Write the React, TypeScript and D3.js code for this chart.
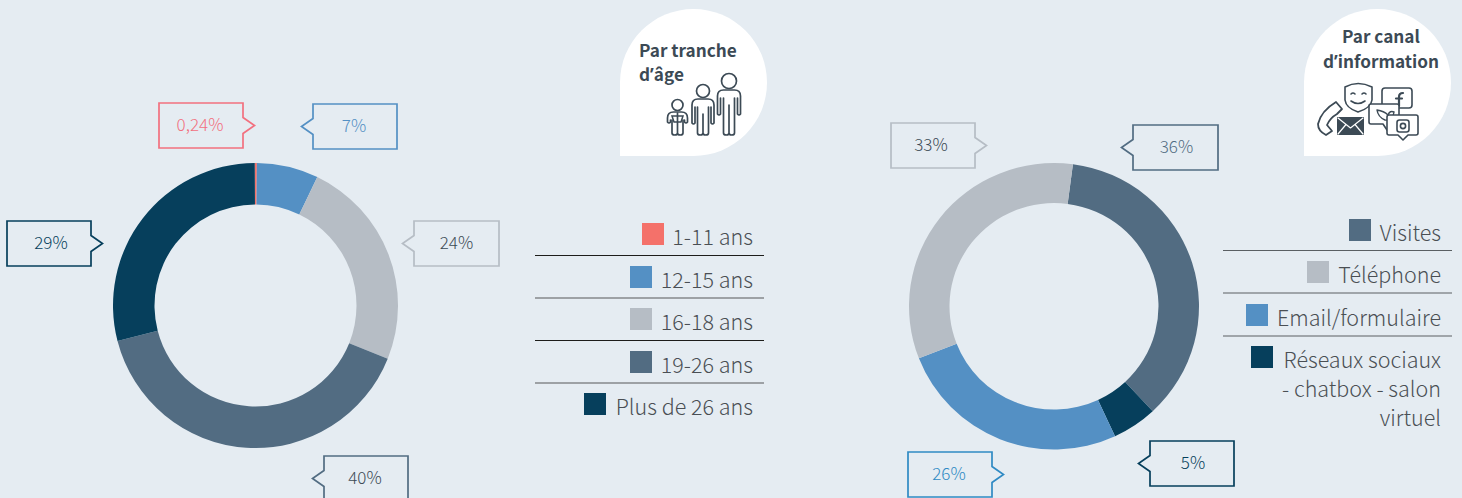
import React from "react";
import * as d3 from "d3";

const ageLabels = ["1-11 ans", "12-15 ans", "16-18 ans", "19-26 ans", "Plus de 26 ans"];
const ageValues = [0.24, 7, 24, 40, 29];
const ageColors = ["#f4716a", "#5490c4", "#b6bdc5", "#526c82", "#063f5c"];
const ageLineColors = ["#1d1d1b", "#85888b", "#1d1d1b", "#85888b"];

const channelLabels = ["Visites", "Téléphone", "Email/formulaire", "Réseaux sociaux"];
const channelValues = [36, 5, 26, 33];
const channelSliceColors = ["#526c82", "#063f5c", "#5490c4", "#b6bdc5"];

type Callout = { x: number; y: number; w: number; h: number; side: "l" | "r"; text: string; color: string; tc: string; dx?: number };
const ageCallouts: Callout[] = [
  { x: 159, y: 103, w: 84, h: 45, side: "r", text: "0,24%", color: "#f2707f", tc: "#f2707f" },
  { x: 313, y: 104, w: 84, h: 45, side: "l", text: "7%", color: "#5490c4", tc: "#5490c4" },
  { x: 414, y: 221, w: 85, h: 45, side: "l", text: "24%", color: "#b6bdc5", tc: "#3c4a55", dx: 1 },
  { x: 7, y: 221, w: 84, h: 45, side: "r", text: "29%", color: "#063f5c", tc: "#063f5c", dx: 3 },
  { x: 324, y: 456, w: 84, h: 45, side: "l", text: "40%", color: "#526c82", tc: "#3c4a55" },
];
const channelCallouts: Callout[] = [
  { x: 891, y: 123, w: 84, h: 45, side: "r", text: "33%", color: "#b6bdc5", tc: "#3c4a55", dx: -1 },
  { x: 1133, y: 125, w: 85, h: 45, side: "l", text: "36%", color: "#526c82", tc: "#526c82", dx: 2 },
  { x: 908, y: 452, w: 84, h: 45, side: "r", text: "26%", color: "#2f8ac4", tc: "#2f8ac4" },
  { x: 1150, y: 441, w: 84, h: 45, side: "l", text: "5%", color: "#063f5c", tc: "#063f5c", dx: 2 },
];

const FONT = "'Noto Sans CJK SC', 'Noto Sans', sans-serif";
const DARK = "#3c4a55";

function Donut({ cx, cy, ro, ri, values, colors, start, sy = 1 }: { cx: number; cy: number; ro: number; ri: number; values: number[]; colors: string[]; start: number; sy?: number }) {
  const pie = d3.pie<number>().sort(null).value((d) => d).startAngle(start).endAngle(start + 2 * Math.PI);
  const arc = d3.arc<d3.PieArcDatum<number>>().innerRadius(ri).outerRadius(ro);
  return (
    <g transform={`translate(${cx},${cy}) scale(1,${sy})`}>
      {pie(values).map((d, i) => (
        <path key={i} d={arc(d) || ""} fill={colors[i]} />
      ))}
    </g>
  );
}

function CalloutBox({ c }: { c: Callout }) {
  const { x, y, w, h } = c;
  const my = y + h / 2;
  const p = 11.5;
  const n = 8;
  const d =
    c.side === "r"
      ? `M${x},${y}H${x + w}V${my - n}L${x + w + p},${my}L${x + w},${my + n}V${y + h}H${x}Z`
      : `M${x},${y}H${x + w}V${y + h}H${x}V${my + n}L${x - p},${my}L${x},${my - n}Z`;
  return (
    <g>
      <path d={d} fill="none" stroke={c.color} strokeWidth={1.7} />
      <text x={x + w / 2 - 1 + (c.dx ?? 0)} y={my + 5.5} textAnchor="middle" fontSize={17} fontWeight={300} fill={c.tc} fontFamily={FONT}>
        {c.text}
      </text>
    </g>
  );
}

function Badge({ x, y, size }: { x: number; y: number; size: number }) {
  const r = size / 2;
  return (
    <path
      d={`M${x},${y + size}V${y + r}A${r},${r} 0 0 1 ${x + size},${y + r}A${r},${r} 0 0 1 ${x + r},${y + size}Z`}
      fill="#ffffff"
    />
  );
}

function Person({ x, headY, hr, S, A, W, L }: { x: number; headY: number; hr: number; S: number; A: number; W: number; L: number }) {
  const B = 135;
  return (
    <g transform={`translate(${x},0)`} fill="none" stroke={DARK} strokeWidth={1.7} strokeLinecap="round" strokeLinejoin="round">
      <circle cx={0} cy={headY} r={hr} />
      <path
        d={`M0,${B - 2}V${A - 10}M0,${B - 2}Q0,${B} ${-L / 2},${B}Q${-L},${B} ${-L},${B - 2}V${S + 8}M0,${B - 2}Q0,${B} ${L / 2},${B}Q${L},${B} ${L},${B - 2}V${S + 8}`}
      />
      <path
        d={`M${-W + 3},${S + 8}V${A - 1}Q${-W + 1.5},${A + 1} ${-W},${A - 1}V${S + 6}Q${-W},${S} ${-W + 6},${S}H${W - 6}Q${W},${S} ${W},${S + 6}V${A - 1}Q${W - 1.5},${A + 1} ${W - 3},${A - 1}V${S + 8}`}
      />
    </g>
  );
}

function AgeIcon() {
  return (
    <g>
      <Person x={677.5} headY={105} hr={5.5} S={112} A={123} W={10} L={5.5} />
      <path d="M672,116H683L681,122H674Z" fill="none" stroke={DARK} strokeWidth={1.5} />
      <Person x={703} headY={91} hr={6.5} S={99} A={124} W={11} L={5.5} />
      <Person x={729} headY={81} hr={7.5} S={90} A={115} W={11.5} L={5.5} />
    </g>
  );
}

function ChannelIcon() {
  return (
    <g fill="none" stroke={DARK} strokeWidth={1.6} strokeLinecap="round" strokeLinejoin="round">
      <path d="M1345,87Q1358,80 1372,87V100Q1371,108 1358,112Q1346,108 1345,100Z" />
      <path d="M1351,94Q1353,92 1355,94M1362,94Q1364,92 1366,94M1351,101Q1358,106 1365,101" />
      <path d="M1336,102L1342,109L1337,114Q1330,118 1327,125L1332,131L1326,135Q1318,131 1318,124Q1321,111 1336,102Z" strokeWidth={1.8} />
      <path d="M1337,117H1364V135H1337Z" fill={DARK} stroke="none" />
      <path d="M1338,118L1350.5,128L1363,118M1338,134L1346,124.5M1363,134L1355,124.5" stroke="#fff" strokeWidth={1.2} />
      <rect x={1382} y={88} width={30} height={20} rx={3} />
      <path d="M1399,106V97Q1399,93 1403,93M1396,98.5H1402" strokeWidth={2.2} />
      <path d="M1369,106Q1369,104 1371,104H1397Q1399,104 1399,106V122Q1399,124 1397,124H1391L1387,130L1383,124H1371Q1369,124 1369,122Z" fill="#fff" />
      <path d="M1377,110Q1384,111 1388,115Q1390,110 1394,112Q1393,121 1385,120Q1378,117 1377,110Z" strokeWidth={1.4} />
      <path d="M1387,117Q1387,115 1389,115H1416Q1418,115 1418,117V133Q1418,135 1416,135H1408L1403,140L1398,135H1389Q1387,135 1387,133Z" fill="#fff" />
      <rect x={1397} y={120} width={12} height={12} rx={2.5} />
      <circle cx={1403} cy={126} r={2.6} />
    </g>
  );
}

function Legend({ rows, lineX1, lineX2, textX }: { rows: { lines: string[]; y: number; color: string; line?: string; lineY?: number; lineW?: number }[]; lineX1: number; lineX2: number; textX: number }) {
  return (
    <g fontFamily={FONT} fontSize={21.5} fill="#4a4f54" fontWeight={300}>
      {rows.map((r, i) => {
        const w = measure(r.lines[0]);
        return (
          <g key={i}>
            <rect x={textX - w - 33} y={r.y - 22} width={22} height={22} fill={r.color} />
            {r.lines.map((l, j) => (
              <text key={j} x={textX} y={r.y + j * 29} textAnchor="end">{l}</text>
            ))}
            {r.line && <line x1={lineX1} x2={lineX2} y1={r.lineY} y2={r.lineY} stroke={r.line} strokeWidth={r.lineW ?? 1} />}
          </g>
        );
      })}
    </g>
  );
}

const widths: Record<string, number> = {
  "1-11 ans": 78,
  "12-15 ans": 90,
  "16-18 ans": 90,
  "19-26 ans": 90,
  "Plus de 26 ans": 136,
  "Visites": 59,
  "Téléphone": 101,
  "Email/formulaire": 162,
  "Réseaux sociaux": 157,
};
const measure = (s: string) => widths[s] ?? 0;

const ageRowYs = [245, 288, 330, 373, 415];
const ageLineYs = [255.5, 298, 340.5, 383];
const ageLineWs = [1, 1.4, 1, 1.4];
const chRowYs = [241, 283, 326, 368];
const chLineYs = [250.5, 293, 336];

const APOS_FONT = "'Noto Sans', sans-serif";

export default function App() {
  const ageRows = ageLabels.map((l, i) => ({
    lines: [l],
    y: ageRowYs[i],
    color: ageColors[i],
    line: ageLineColors[i],
    lineY: ageLineYs[i],
    lineW: ageLineWs[i],
  }));
  const legendChannelColors = ["#526c82", "#b6bdc5", "#5490c4", "#063f5c"];
  const chRows = channelLabels.map((l, i) => ({
    lines: i === 3 ? [l, "- chatbox - salon", "virtuel"] : [l],
    y: chRowYs[i],
    color: legendChannelColors[i],
    line: i < 3 ? "#5a5f63" : undefined,
    lineY: chLineYs[i],
  }));
  return (
    <svg width={1462} height={498} style={{ position: "fixed", left: 0, top: 0, display: "block" }}>
      <rect width={1462} height={498} fill="#e5ecf2" />
      <Donut cx={255.5} cy={305.5} ro={142.5} ri={101} values={ageValues} colors={ageColors} start={(-0.3 * Math.PI) / 180} />
      <Donut cx={1054} cy={306.3} ro={145} ri={104.5} sy={0.988} values={channelValues} colors={channelSliceColors} start={(7.5 * Math.PI) / 180} />
      {ageCallouts.map((c, i) => <CalloutBox key={i} c={c} />)}
      {channelCallouts.map((c, i) => <CalloutBox key={i} c={c} />)}
      <Legend rows={ageRows} lineX1={535} lineX2={764} textX={753} />
      <Legend rows={chRows} lineX1={1223} lineX2={1452} textX={1441} />
      <Badge x={620} y={9} size={147} />
      <Badge x={1304} y={9} size={147} />
      <g fontFamily={FONT} fontWeight={700} fontSize={17.2} fill={DARK}>
        <text x={639} y={57}>Par tranche</text>
        <text x={639} y={81}>d<tspan fontFamily={APOS_FONT}>’</tspan>âge</text>
        <text x={1381} y={43} textAnchor="middle">Par canal</text>
        <text x={1381} y={68} textAnchor="middle">d<tspan fontFamily={APOS_FONT}>’</tspan>information</text>
      </g>
      <AgeIcon />
      <ChannelIcon />
    </svg>
  );
}
